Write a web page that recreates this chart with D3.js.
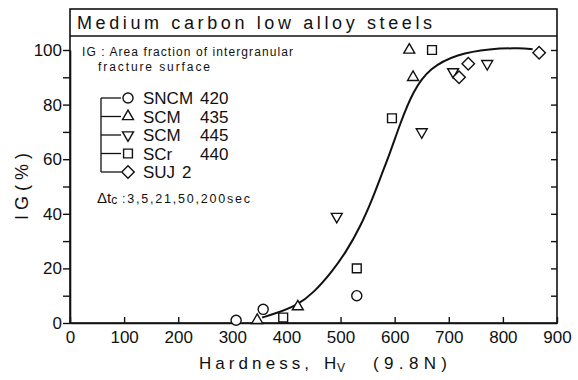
<!DOCTYPE html>
<html>
<head>
<meta charset="utf-8">
<script src="https://cdn.jsdelivr.net/npm/d3@7"></script>
<style>
  html, body { margin: 0; padding: 0; background: #fff; }
  svg { display: block; }
  text { font-family: "Liberation Sans", Arial, sans-serif; fill: #111; }
</style>
</head>
<body>
<svg id="chart" width="578" height="380"></svg>
<script>
// ---- data ----
const seriesNames = ["SNCM 420", "SCM 435", "SCM 445", "SCr 440", "SUJ 2"];
const sncm420 = [[307, 1], [357, 5], [530, 10]];
const scm435  = [[346, 1], [421, 6], [627, 100], [634, 90]];
const scm445  = [[493, 39], [650, 70], [708, 92], [771, 95]];
const scr440  = [[394, 2], [530, 20], [595, 75], [669, 100]];
const suj2    = [[719, 90], [736, 95], [867, 99]];
const fitCurve = [[355, 2], [380, 3.5], [420, 6.5], [450, 11], [485, 19], [510, 26], [536, 35],
                  [560, 46], [575, 54], [591, 62], [610, 73], [634, 85], [665, 93.5], [715, 98.5],
                  [776, 100.5], [832, 100.7], [855, 100.3]];
const xTicks = [0, 100, 200, 300, 400, 500, 600, 700, 800, 900];
const yTicks = [0, 10, 20, 30, 40, 50, 60, 70, 80, 90, 100];
const yLabelTicks = [0, 20, 40, 60, 80, 100];
const titleText = "Medium carbon low alloy steels";
const noteLine1 = "IG : Area fraction of intergranular";
const noteLine2 = "fracture surface";
const tcValues = ":3,5,21,50,200sec";

// ---- layout ----
const svg = d3.select("#chart");
const L = 70, R = 557, T = 9, B = 323, TitleB = 36;
const x = d3.scaleLinear().domain([0, 900]).range([L, R]);
const y = d3.scaleLinear().domain([0, 100]).range([B, 50]);

const symTypes = [
  {type: d3.symbolCircle, size: 80, rot: 0},
  {type: d3.symbolTriangle, size: 52, rot: 0},
  {type: d3.symbolTriangle, size: 52, rot: 180},
  {type: d3.symbolSquare, size: 78, rot: 0},
  {type: d3.symbolSquare, size: 78, rot: 45}
];
const allSeries = [sncm420, scm435, scm445, scr440, suj2];

// frame
svg.append("rect").attr("x", L).attr("y", T).attr("width", R - L).attr("height", B - T)
  .attr("fill", "none").attr("stroke", "#111").attr("stroke-width", 1.6);
svg.append("line").attr("x1", L).attr("x2", R).attr("y1", TitleB).attr("y2", TitleB)
  .attr("stroke", "#111").attr("stroke-width", 1.4);

// title
svg.append("text").attr("x", 77).attr("y", 29).attr("font-size", 18)
  .attr("textLength", 355).attr("lengthAdjust", "spacing").text(titleText);

// x axis
const xAxis = d3.axisBottom(x).tickValues(xTicks).tickSizeInner(-6).tickSizeOuter(0).tickPadding(8);
const gx = svg.append("g").attr("transform", `translate(0,${B})`).call(xAxis);
gx.select(".domain").attr("stroke", "#111").attr("stroke-width", 1.6);
gx.selectAll(".tick line").attr("stroke", "#111").attr("stroke-width", 1.4);
gx.selectAll(".tick text").attr("font-size", 17).attr("font-family", "Liberation Sans").attr("fill", "#111");

// left y axis
const yAxis = d3.axisLeft(y).tickValues(yTicks).tickSizeInner(7).tickSizeOuter(0).tickPadding(1)
  .tickFormat(d => yLabelTicks.includes(d) ? d : "");
const gy = svg.append("g").attr("transform", `translate(${L},0)`).call(yAxis);
gy.select(".domain").attr("stroke", "#111").attr("stroke-width", 1.6);
gy.selectAll(".tick line").attr("stroke", "#111").attr("stroke-width", 1.4);
gy.selectAll(".tick text").attr("font-size", 17).attr("font-family", "Liberation Sans").attr("fill", "#111");

// right y axis (inward ticks)
const yAxisR = d3.axisRight(y).tickValues(yTicks.filter(d => d > 0)).tickSizeInner(-6).tickSizeOuter(0).tickFormat("");
const gyr = svg.append("g").attr("transform", `translate(${R},0)`).call(yAxisR);
gyr.select(".domain").remove();
gyr.selectAll(".tick line").attr("stroke", "#111").attr("stroke-width", 1.4);

// axis titles
svg.append("text").attr("x", 199).attr("y", 369).attr("font-size", 17)
  .attr("textLength", 110).attr("lengthAdjust", "spacing").text("Hardness,");
svg.append("text").attr("x", 324).attr("y", 369).attr("font-size", 17).text("H");
svg.append("text").attr("x", 337).attr("y", 372).attr("font-size", 12).text("V");
svg.append("text").attr("x", 373).attr("y", 369).attr("font-size", 17)
  .attr("textLength", 74).attr("lengthAdjust", "spacing").text("(9.8N)");

svg.append("text").attr("transform", "translate(28,220) rotate(-90)").attr("font-size", 18)
  .attr("textLength", 67).attr("lengthAdjust", "spacing").text("IG(%)");

// fitted curve
const line = d3.line().x(d => x(d[0])).y(d => y(d[1])).curve(d3.curveBasis);
svg.append("path").datum(fitCurve).attr("d", line).attr("fill", "none")
  .attr("stroke", "#111").attr("stroke-width", 2);

// data points
allSeries.forEach((data, i) => {
  const s = symTypes[i];
  const sym = d3.symbol().type(s.type).size(s.size);
  svg.append("g").selectAll("path").data(data).join("path")
    .attr("d", sym)
    .attr("transform", d => `translate(${x(d[0])},${y(d[1])}) rotate(${s.rot})`)
    .attr("fill", "white").attr("stroke", "#111").attr("stroke-width", 1.4);
});

// legend
const legY = [98, 116.5, 135, 153.5, 172];
const bx = 101;
svg.append("line").attr("x1", bx).attr("x2", bx).attr("y1", legY[0]).attr("y2", legY[4])
  .attr("stroke", "#111").attr("stroke-width", 1.3);
seriesNames.forEach((name, i) => {
  const yy = legY[i];
  svg.append("line").attr("x1", bx).attr("x2", 121).attr("y1", yy).attr("y2", yy)
    .attr("stroke", "#111").attr("stroke-width", 1.3);
  const s = symTypes[i];
  svg.append("path").attr("d", d3.symbol().type(s.type).size(s.size))
    .attr("transform", `translate(128,${yy}) rotate(${s.rot})`)
    .attr("fill", "white").attr("stroke", "#111").attr("stroke-width", 1.4);
  const parts = name.split(" ");
  svg.append("text").attr("x", 143).attr("y", yy + 6).attr("font-size", 17).text(parts[0]);
  const nx = parts[0] === "SUJ" ? 182 : 200;
  svg.append("text").attr("x", nx).attr("y", yy + 6).attr("font-size", 17).text(parts[1]);
});

// notes
svg.append("text").attr("x", 82).attr("y", 56).attr("font-size", 12)
  .attr("textLength", 211).attr("lengthAdjust", "spacing").text(noteLine1);
svg.append("text").attr("x", 98).attr("y", 71).attr("font-size", 12)
  .attr("textLength", 112).attr("lengthAdjust", "spacing").text(noteLine2);

const tc = svg.append("text").attr("x", 97).attr("y", 203).attr("font-size", 15);
tc.append("tspan").text("Δt");
tc.append("tspan").attr("font-size", 12).attr("dy", 1).text("c");
svg.append("text").attr("x", 122).attr("y", 203).attr("font-size", 12.5)
  .attr("textLength", 128).attr("lengthAdjust", "spacing").text(tcValues);
</script>
</body>
</html>
